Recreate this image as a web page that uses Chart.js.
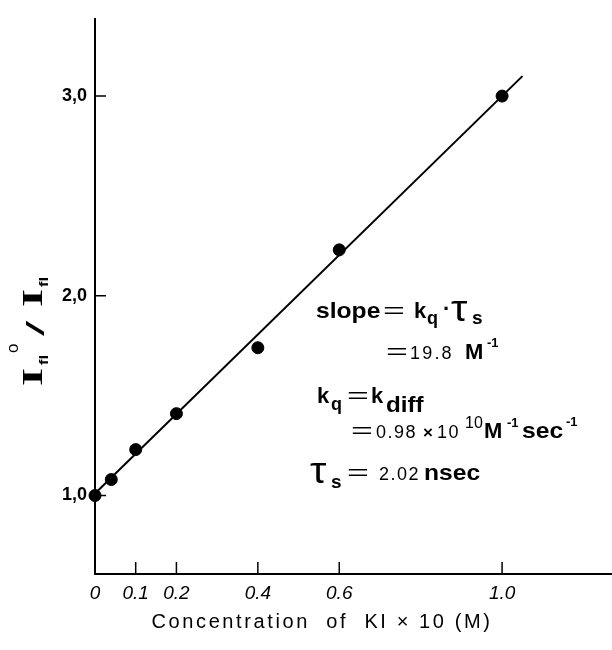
<!DOCTYPE html>
<html>
<head>
<meta charset="utf-8">
<script src="https://cdn.jsdelivr.net/npm/chart.js@4.4.0/dist/chart.umd.min.js"></script>
<style>
    body { margin: 0; background: #ffffff; }
    #wrap { width: 612px; height: 650px; }
</style>
</head>
<body>
<div id="wrap"><canvas id="sternVolmer" width="612" height="650"></canvas></div>
<script>
// Stern-Volmer data: I0/I vs [KI] x 10 (M)
const concKI = [0, 0.04, 0.1, 0.2, 0.4, 0.6, 1.0];
const intensityRatio = [1.0, 1.08, 1.23, 1.41, 1.74, 2.23, 3.0];

// fitted line end points
const fitX = [0, 1.05];
const fitY = [1.01, 3.10];

// tick values and labels
const xTicks = [0, 0.1, 0.2, 0.4, 0.6, 1.0];
const xTickLabels = ['0', '0.1', '0.2', '0.4', '0.6', '1.0'];
const yTicks = [1, 2, 3];
const yTickLabels = ['1,0', '2,0', '3,0'];

const sans = "'Liberation Sans', Arial, sans-serif";
const serif = "'Liberation Serif', 'Times New Roman', serif";

// draw a piece of text, optionally stretched horizontally
function piece(ctx, x, y, text, font, sx, spacing) {
    ctx.save();
    ctx.font = font;
    ctx.letterSpacing = spacing || '0px';
    ctx.translate(x, y);
    ctx.scale(sx || 1, 1);
    ctx.fillText(text, 0, 0);
    ctx.restore();
}

// inward tick marks
const innerTicks = {
    id: 'innerTicks',
    afterDraw(chart) {
        const ctx = chart.ctx;
        const xs = chart.scales.x;
        const ys = chart.scales.y;
        const area = chart.chartArea;
        ctx.save();
        ctx.strokeStyle = '#000';
        ctx.lineWidth = 1.5;
        ctx.beginPath();
        xs.ticks.forEach(t => {
            if (t.value === 0) return;
            const px = xs.getPixelForValue(t.value);
            ctx.moveTo(px, area.bottom);
            ctx.lineTo(px, area.bottom - 12);
        });
        ys.ticks.forEach(t => {
            const py = ys.getPixelForValue(t.value);
            ctx.moveTo(area.left, py);
            ctx.lineTo(area.left + 11, py);
        });
        ctx.stroke();
        ctx.restore();
    }
};

// axis titles and the annotation block
const labels = {
    id: 'labels',
    afterDraw(chart) {
        const ctx = chart.ctx;
        ctx.save();
        ctx.fillStyle = '#000';
        ctx.textBaseline = 'alphabetic';
        ctx.textAlign = 'left';

        // x title
        ctx.save();
        ctx.font = '500 20px ' + sans;
        ctx.letterSpacing = '2.6px';
        ctx.textAlign = 'center';
        ctx.fillText('Concentration  of  KI × 10 (M)', 322, 628);
        ctx.restore();

        // y title, rotated
        ctx.save();
        ctx.translate(42, 386);
        ctx.rotate(-Math.PI / 2);
        piece(ctx, 0, 0, 'I', 'bold 29px ' + serif, 1.6);
        piece(ctx, 21, 6, 'fl', 'bold 12px ' + sans, 1.4);
        piece(ctx, 33, -24, 'o', '17px ' + sans);
        piece(ctx, 50, 2, '/', '23px ' + sans, 2.4);
        piece(ctx, 79, 0, 'I', 'bold 29px ' + serif, 1.6);
        piece(ctx, 99, 6, 'fl', 'bold 12px ' + sans, 1.4);
        ctx.restore();

        const b22 = 'bold 22px ' + sans;
        const tau = '36px ' + sans;
        const eq = (x, y) => piece(ctx, x, y, '=', '22px ' + sans, 1.7);

        // slope = kq . ts
        piece(ctx, 316, 318, 'slope', b22, 1.12);
        eq(383, 318);
        piece(ctx, 414, 318, 'k', b22);
        piece(ctx, 427, 324, 'q', 'bold 18px ' + sans);
        piece(ctx, 443, 316, '·', b22);
        piece(ctx, 451, 321, 'τ', tau, 1.15);
        piece(ctx, 472, 324, 's', 'bold 19px ' + sans);

        // = 19.8 M-1
        eq(386, 359);
        piece(ctx, 410, 359, '19.8', '18px ' + sans, 1, '2.2px');
        piece(ctx, 465, 359, 'M', 'bold 22px ' + sans);
        piece(ctx, 487, 347, '-1', 'bold 13px ' + sans);

        // kq = kdiff
        piece(ctx, 317, 403, 'k', b22);
        piece(ctx, 331, 410, 'q', 'bold 18px ' + sans);
        eq(347, 403);
        piece(ctx, 371, 403, 'k', b22);
        piece(ctx, 386, 412, 'diff', 'bold 22px ' + sans, 1.1);

        // = 0.98 x 10^10 M-1 sec-1
        eq(351, 438);
        piece(ctx, 376, 438, '0.98', '18px ' + sans, 1, '1.5px');
        piece(ctx, 423, 438, '×', 'bold 17px ' + sans);
        piece(ctx, 437, 438, '10', '18px ' + sans, 1, '1.5px');
        piece(ctx, 465, 428, '10', '16px ' + sans);
        piece(ctx, 484, 438, 'M', 'bold 22px ' + sans);
        piece(ctx, 507, 427, '-1', 'bold 13px ' + sans);
        piece(ctx, 522, 438, 'sec', b22, 1.12);
        piece(ctx, 566, 426, '-1', 'bold 13px ' + sans);

        // ts = 2.02 nsec
        piece(ctx, 310, 483, 'τ', tau, 1.15);
        piece(ctx, 331, 488, 's', 'bold 19px ' + sans);
        eq(347, 480);
        piece(ctx, 379, 480, '2.02', '18px ' + sans, 1, '1.5px');
        piece(ctx, 424, 480, 'nsec', b22, 1.12);

        ctx.restore();
    }
};

const ctx = document.getElementById('sternVolmer');

new Chart(ctx, {
    type: 'scatter',
    data: {
        datasets: [
            {
                label: 'fit',
                data: fitX.map((x, i) => ({ x: x, y: fitY[i] })),
                showLine: true,
                borderColor: '#000',
                borderWidth: 2,
                pointRadius: 0,
                clip: false
            },
            {
                label: 'I0/I',
                data: concKI.map((x, i) => ({ x: x, y: intensityRatio[i] })),
                backgroundColor: '#000',
                borderColor: '#000',
                pointRadius: 6,
                clip: false
            }
        ]
    },
    options: {
        responsive: false,
        animation: false,
        layout: { autoPadding: false, padding: { top: 15, left: 0, right: 0, bottom: 0 } },
        plugins: {
            legend: { display: false },
            tooltip: { enabled: false }
        },
        scales: {
            x: {
                type: 'linear',
                min: 0,
                max: 1.27,
                afterBuildTicks: scale => { scale.ticks = xTicks.map(v => ({ value: v })); },
                afterFit: scale => { scale.height = 76; },
                ticks: {
                    color: '#000',
                    padding: 8,
                    maxRotation: 0,
                    font: { family: sans, size: 19, style: 'italic' },
                    callback: value => xTickLabels[xTicks.indexOf(value)]
                },
                grid: { display: true, drawOnChartArea: false, drawTicks: false },
                border: { display: true, color: '#000', width: 2 }
            },
            y: {
                type: 'linear',
                min: 0.607,
                max: 3.387,
                afterBuildTicks: scale => { scale.ticks = yTicks.map(v => ({ value: v })); },
                afterFit: scale => { scale.width = 95; },
                ticks: {
                    color: '#000',
                    padding: 8,
                    font: { family: sans, size: 18, weight: 'bold' },
                    callback: value => yTickLabels[yTicks.indexOf(value)]
                },
                grid: { display: true, drawOnChartArea: false, drawTicks: false },
                border: { display: true, color: '#000', width: 2 }
            }
        }
    },
    plugins: [innerTicks, labels]
});
</script>
</body>
</html>
